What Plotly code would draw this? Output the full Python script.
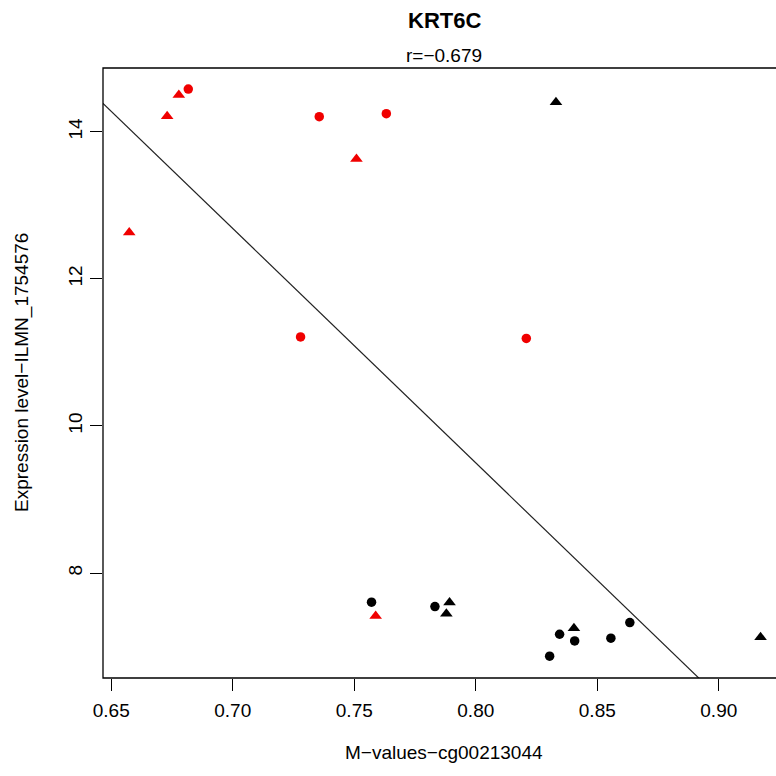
import numpy as np
import plotly.graph_objects as go

# Data
red_tri_x = [0.6574, 0.6730, 0.6778, 0.7509, 0.7588]
red_tri_y = [12.63, 14.21, 14.50, 13.63, 7.417]
red_cir_x = [0.6817, 0.7356, 0.7632, 0.7279, 0.8208]
red_cir_y = [14.58, 14.205, 14.246, 11.21, 11.19]
blk_tri_x = [0.8330, 0.7892, 0.7879, 0.8404, 0.9172]
blk_tri_y = [14.40, 7.598, 7.445, 7.25, 7.128]
blk_cir_x = [0.7571, 0.7832, 0.8345, 0.8407, 0.8304, 0.8556, 0.8634]
blk_cir_y = [7.604, 7.544, 7.168, 7.077, 6.869, 7.114, 7.326]

x_ticks = [0.65, 0.70, 0.75, 0.80, 0.85, 0.90]
x_tick_labels = ["0.65", "0.70", "0.75", "0.80", "0.85", "0.90"]
y_ticks = [8, 10, 12, 14]
y_tick_labels = ["8", "10", "12", "14"]

title = "KRT6C"
subtitle = "r=\u22120.679"
x_title = "M\u2212values\u2212cg00213044"
y_title = "Expression level\u2212ILMN_1754576"

all_x = np.array(red_tri_x + red_cir_x + blk_tri_x + blk_cir_x)
all_y = np.array(red_tri_y + red_cir_y + blk_tri_y + blk_cir_y)
slope, intercept = np.polyfit(all_x, all_y, 1)

x_range = [0.6466, 0.92355]
y_range = [6.573, 14.867]

FONT = "Liberation Sans, Arial, sans-serif"
RED = "#F00000"

fig = go.Figure()
line_x = np.array(x_range)
fig.add_trace(go.Scatter(x=line_x, y=intercept + slope * line_x, mode="lines",
                         line=dict(color="#222222", width=1.2), hoverinfo="skip"))
fig.add_trace(go.Scatter(x=red_tri_x, y=red_tri_y, mode="markers",
                         marker=dict(symbol="triangle-up", size=11, color=RED)))
fig.add_trace(go.Scatter(x=red_cir_x, y=red_cir_y, mode="markers",
                         marker=dict(symbol="circle", size=9.5, color=RED)))
fig.add_trace(go.Scatter(x=blk_tri_x, y=blk_tri_y, mode="markers",
                         marker=dict(symbol="triangle-up", size=11, color="black")))
fig.add_trace(go.Scatter(x=blk_cir_x, y=blk_cir_y, mode="markers",
                         marker=dict(symbol="circle", size=9.5, color="black")))

fig.update_layout(
    width=776, height=776,
    margin=dict(l=103, r=0, t=68, b=98),
    paper_bgcolor="white", plot_bgcolor="white",
    showlegend=False,
    font=dict(family=FONT, size=19, color="black"),
    xaxis=dict(range=x_range, tickvals=x_ticks, ticktext=x_tick_labels,
               showgrid=False, zeroline=False, showline=False,
               ticks="outside", ticklen=12, tickwidth=1, tickcolor="black",
               ticklabelstandoff=3,
               tickfont=dict(family=FONT, size=19, color="black")),
    yaxis=dict(range=y_range, tickvals=y_ticks, ticktext=y_tick_labels,
               showgrid=False, zeroline=False, showline=False,
               ticks="outside", ticklen=12, tickwidth=1, tickcolor="black",
               tickangle=-90,
               tickfont=dict(family=FONT, size=19, color="black")),
    shapes=[dict(type="rect", xref="paper", yref="paper", x0=0, x1=1.03, y0=0, y1=1,
                 line=dict(color="black", width=1.3))],
)

cx = (444 - 103) / 673
fig.add_annotation(text="<b>" + title + "</b>", xref="paper", yref="paper",
                   x=cx, y=(678 - 20) / 610, showarrow=False,
                   xanchor="center", yanchor="middle",
                   font=dict(family=FONT, size=22, color="black"))
fig.add_annotation(text=subtitle, xref="paper", yref="paper",
                   x=cx, y=(678 - 55) / 610, showarrow=False,
                   xanchor="center", yanchor="middle",
                   font=dict(family=FONT, size=19, color="black"))
fig.add_annotation(text=x_title, xref="paper", yref="paper",
                   x=cx, y=(678 - 752) / 610, showarrow=False,
                   xanchor="center", yanchor="middle",
                   font=dict(family=FONT, size=19, color="black"))
fig.add_annotation(text=y_title, xref="paper", yref="paper",
                   x=(22 - 103) / 673, y=0.5, showarrow=False, textangle=-90,
                   xanchor="center", yanchor="middle",
                   font=dict(family=FONT, size=19, color="black"))

fig.write_html("out.html")
